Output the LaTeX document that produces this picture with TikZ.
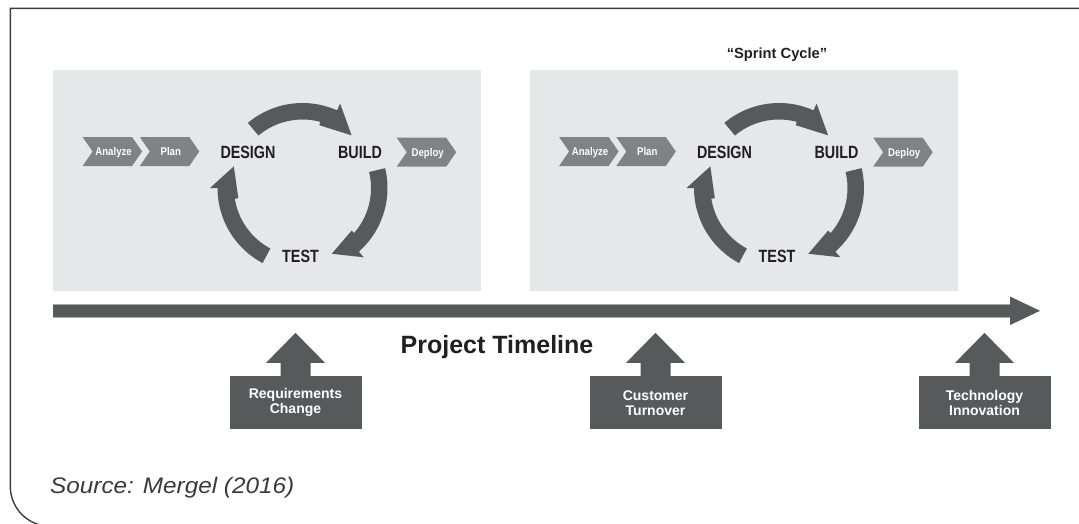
\documentclass[tikz,border=0pt]{standalone}
\usepackage{fontspec}
\setmainfont{Liberation Sans}
\newfontfamily\condfont[FakeStretch=0.81]{Liberation Sans}
\newfontfamily\chevfont[FakeStretch=0.86]{Liberation Sans}
\newfontfamily\srcfont[FakeStretch=1.08]{Liberation Sans}
\usetikzlibrary{arrows.meta}
\definecolor{panelgray}{HTML}{E6E7E8}
\definecolor{chevgray}{HTML}{808285}
\definecolor{darkcol}{HTML}{58595B}
\definecolor{edgecol}{HTML}{A7A9AC}
\definecolor{textblack}{HTML}{231F20}
\definecolor{framecol}{HTML}{3C3C3C}
\definecolor{srccol}{HTML}{3A3A3A}
\tikzset{
  darkfill/.style={fill=darkcol},
  panel/.style={fill=panelgray},
  chevtext/.style={font=\chevfont\bfseries\fontsize{11.2}{12}\selectfont, text=white, inner sep=0pt, anchor=base},
  phase/.style={font=\condfont\bfseries\fontsize{17.7}{19}\selectfont, text=textblack, inner sep=0pt, anchor=base},
  evbox/.style={fill=darkcol, minimum width=132pt, minimum height=53.3pt, inner sep=0pt, align=center, text=white, font=\bfseries\fontsize{14}{15}\selectfont},
}
\newcommand\chev[4]{%
  \fill[chevgray] (#1,#2) -- ++(49.5,0) -- ++(10,14.5) -- ++(-10,14.5) -- ++(-49.5,0) -- ++(10,-14.5) -- cycle;
  \node[chevtext] (#3) at (#1+31,#2+18.4) {#4};}
\newcommand\cycarrows[1]{%
  \begin{scope}[shift={(#1)}]
    \fill[darkfill] plot[domain=-130:-66,samples=30] (\x:85) -- (-66:92.5) -- (-47:72) -- (-75:65)
      -- plot[domain=-75:-130,samples=30] (\x:68.5) -- cycle;
    \fill[darkfill] plot[domain=-13.5:48.5,samples=30] (\x:85) -- (48.5:92.5) -- (66:72) -- (41:65)
      -- plot[domain=41:-13.5,samples=30] (\x:68.5) -- cycle;
    \fill[darkfill] plot[domain=-242:-180,samples=30] (\x:85) -- (-180:92.5) -- (-162.5:72) -- (-189:65)
      -- plot[domain=-189:-242,samples=30] (\x:68.5) -- cycle;
  \end{scope}}
\newcommand\uparrowfrom[1]{%
  \fill[darkfill] ([xshift=-15pt,yshift=-0.5pt]#1.north) -- ++(0,-13.5) -- ++(-14.5,0) -- ++(29.5,-30)
    -- ++(29.5,30) -- ++(-14.5,0) -- ++(0,13.5) -- cycle;}
\begin{document}
\begin{tikzpicture}[x=1pt,y=-1pt]
\useasboundingbox (0,0) rectangle (1079,523);
\clip (0,0) rectangle (1079,523);
% frame
\draw[framecol, line width=1.4pt] (1090,8.3) -- (10.3,8.3) -- (10.3,486.3)
  -- plot[domain=180:90,samples=24] ({50.3+40*cos(\x)},{486.3+40*sin(\x)}) -- (1090,526.3);
% panels
\fill[panel] (53,70) rectangle (481,291);
\fill[panel] (530,70) rectangle (958,291);
% sprint cycle title
\node[font=\bfseries\fontsize{14.7}{16}\selectfont, text=textblack, anchor=base, inner sep=0pt] (sprint) at (777,58) {“Sprint Cycle”};
% chevrons
\chev{82.6}{137}{ana1}{Analyze}
\chev{139.8}{137}{plan1}{Plan}
\chev{396.7}{137.7}{dep1}{Deploy}
\chev{559.1}{137}{ana2}{Analyze}
\chev{616.3}{137}{plan2}{Plan}
\chev{873.2}{137.7}{dep2}{Deploy}
% cycles
\coordinate (c1) at (302.5,188);
\coordinate (c2) at (779,188);
\cycarrows{c1}
\cycarrows{c2}
\node[phase] (design1) at (248,158.3) {DESIGN};
\node[phase] (build1) at (360,158.3) {BUILD};
\node[phase] (test1) at (300.5,262.3) {TEST};
\node[phase] (design2) at (724.5,158.3) {DESIGN};
\node[phase] (build2) at (836.5,158.3) {BUILD};
\node[phase] (test2) at (777,262.3) {TEST};
% timeline
\coordinate (tl0) at (53,310.8);
\coordinate (tl1) at (1041,310.8);
\draw[darkcol, line width=13pt, -{Triangle[length=31pt,width=26pt]}] (tl0) -- (tl1);
\draw[edgecol, line width=0.8pt] (53,304.6) -- (1010,304.6);
\draw[edgecol, line width=0.6pt] (53,317) -- (1010,317);
\node[font=\bfseries\fontsize{25}{28}\selectfont, text=textblack, anchor=base, inner sep=0pt] (ptl) at (497,353) {Project Timeline};
% events
\node[evbox] (req) at (295.5,402.7) {Requirements\\Change};
\node[evbox] (cust) at (655.5,402.7) {Customer\\Turnover};
\node[evbox] (tech) at (984.5,402.7) {Technology\\Innovation};
\uparrowfrom{req}
\uparrowfrom{cust}
\uparrowfrom{tech}
% source
\node[font=\srcfont\itshape\fontsize{22.5}{26}\selectfont, text=srccol, anchor=base west, inner sep=0pt] (src) at (50,493.3) {Source: Mergel (2016)};
\end{tikzpicture}
\end{document}
